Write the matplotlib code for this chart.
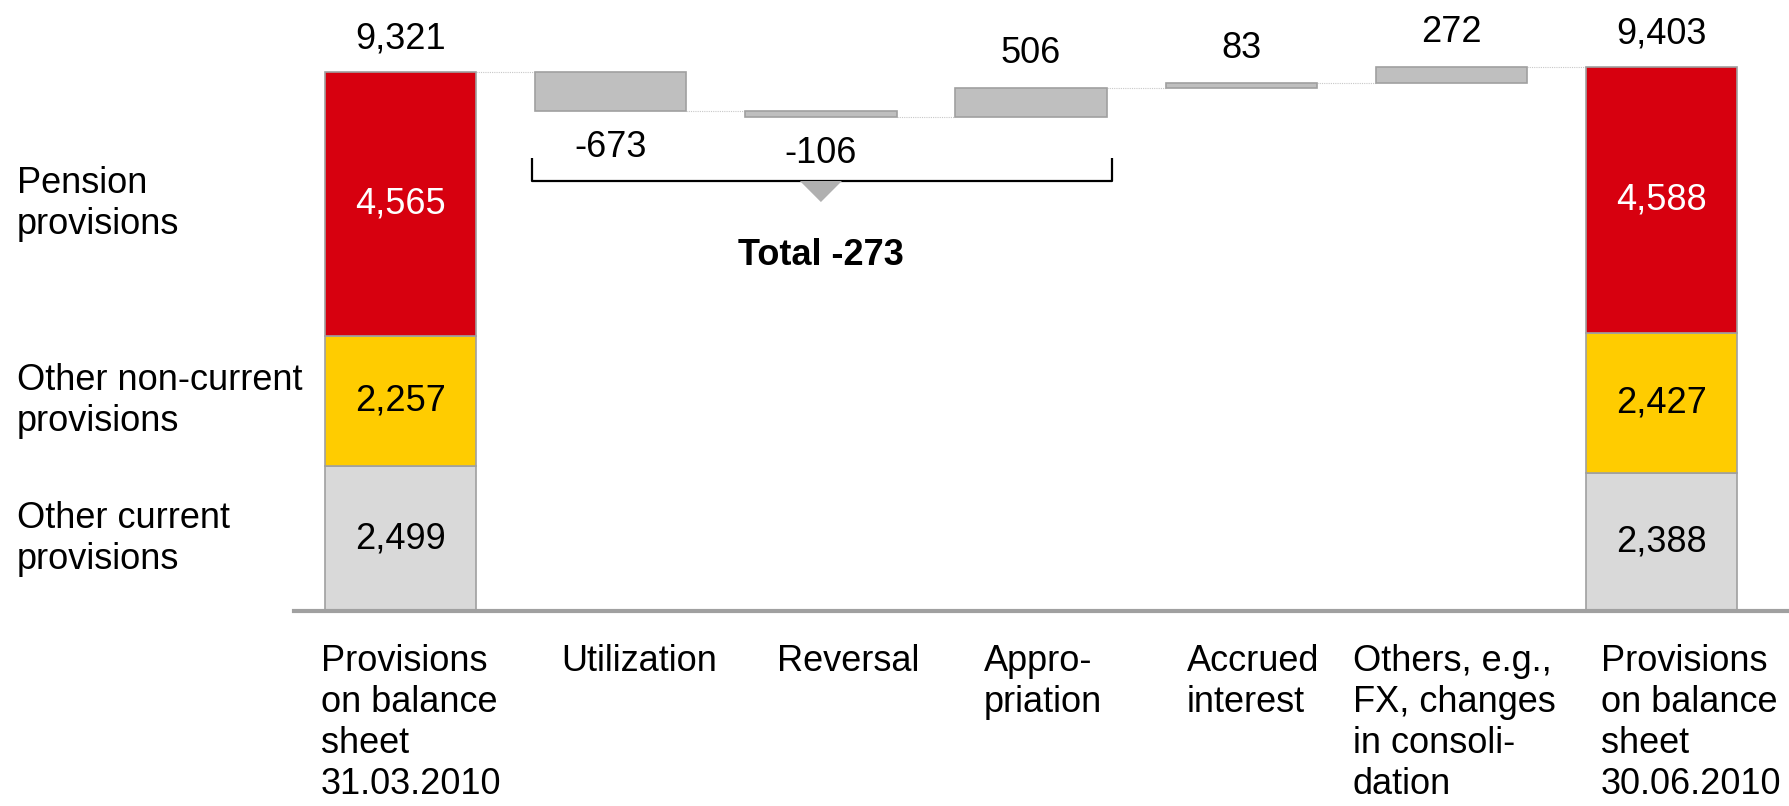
import numpy as np
import matplotlib
matplotlib.use("Agg")
import matplotlib.pyplot as plt
from matplotlib.patches import Polygon

plt.rcParams["font.family"] = ["Liberation Sans", "DejaVu Sans"]

# data
categories = ["Provisions\non balance\nsheet\n31.03.2010", "Utilization", "Reversal",
              "Appro-\npriation", "Accrued\ninterest",
              "Others, e.g.,\nFX, changes\nin consoli-\ndation",
              "Provisions\non balance\nsheet\n30.06.2010"]
segment_names = ["Other current\nprovisions", "Other non-current\nprovisions", "Pension\nprovisions"]
start_segments = [2499, 2257, 4565]
end_segments = [2388, 2427, 4588]
deltas = [-673, -106, 506, 83, 272]
bracket_total = -273

seg_colors = ["#D9D9D9", "#FFCC00", "#D7000F"]
seg_text_colors = ["black", "black", "white"]
delta_color = "#BFBFBF"
edge_color = "#A0A0A0"
fs = 26
width = 0.72
lsp = 1.22

fig = plt.figure(figsize=(17.89, 8.06), dpi=100)
ax = fig.add_axes([294 / 1789, 195 / 806, 1 - 294 / 1789, 611 / 806])

x = np.arange(len(categories))

def fmt(v):
    return "{:,}".format(v)

# stacked totals
for xi, segs in [(x[0], start_segments), (x[-1], end_segments)]:
    bottom = 0
    for val, col, tcol in zip(segs, seg_colors, seg_text_colors):
        ax.bar(xi, val, width, bottom=bottom, color=col, edgecolor=edge_color, linewidth=1.2, zorder=3)
        ax.text(xi, bottom + val / 2, fmt(val), ha="center", va="center", fontsize=fs, color=tcol, zorder=4)
        bottom += val
    ax.annotate(fmt(bottom), xy=(xi, bottom), xytext=(0, 24), textcoords="offset points",
                ha="center", va="center", fontsize=fs)

# deltas
start_total = sum(start_segments)
levels = start_total + np.concatenate([[0], np.cumsum(deltas)])
for i, d in enumerate(deltas):
    xi = x[i + 1]
    lo = min(levels[i], levels[i + 1])
    ax.bar(xi, abs(d), width, bottom=lo, color=delta_color, edgecolor=edge_color, linewidth=1.2, zorder=3)
    if d < 0:
        ax.annotate(fmt(d), xy=(xi, lo), xytext=(0, -26), textcoords="offset points",
                    ha="center", va="center", fontsize=fs)
    else:
        ax.annotate(fmt(d), xy=(xi, lo + d), xytext=(0, 25), textcoords="offset points",
                    ha="center", va="center", fontsize=fs)

# connector lines
for i in range(len(levels)):
    ax.plot([x[i] + width / 2, x[i + 1] - width / 2], [levels[i], levels[i]],
            color="#C8C8C8", lw=0.8, ls=(0, (1, 1)), zorder=2)

# bracket over utilization..appropriation
bl, br = x[1] - width / 2 - 0.015, x[3] + width / 2 + 0.025
by, bt = 7436, 7833
ax.plot([bl, bl, br, br], [bt, by, by, bt], color="black", lw=1.6, zorder=3, solid_capstyle="butt")
tri = Polygon([[x[2] - 0.1, by], [x[2] + 0.1, by], [x[2], 7072]], closed=True,
              facecolor="#B0B0B0", edgecolor="none", zorder=4)
ax.add_patch(tri)
ax.text(x[2], 6150, "Total " + fmt(bracket_total), ha="center", va="center",
        fontsize=fs, fontweight="bold")

# segment names on the left
bottom = 0
for name, val in zip(segment_names, start_segments):
    ax.annotate(name, xy=(17 / 1789, bottom + val / 2), xycoords=("figure fraction", "data"),
                ha="left", va="center", fontsize=fs, linespacing=lsp, annotation_clip=False)
    bottom += val

# category labels
label_offsets = [-0.38, -0.235, -0.209, -0.226, -0.26, -0.469, -0.29]
for xi, lab, off in zip(x, categories, label_offsets):
    ax.annotate(lab, xy=(xi + off, 0), xycoords=("data", "axes fraction"),
                xytext=(0, -24), textcoords="offset points", ha="left", va="top",
                fontsize=fs, linespacing=lsp, annotation_clip=False)

ax.set_xlim(-0.507, 6.606)
ax.set_ylim(0, 10566)
for s in ["top", "right", "left"]:
    ax.spines[s].set_visible(False)
ax.spines["bottom"].set_color("#A0A0A0")
ax.spines["bottom"].set_linewidth(3)
ax.spines["bottom"].set_zorder(5)
ax.set_xticks([])
ax.set_yticks([])
ax.patch.set_alpha(0)

fig.savefig("out.png", dpi=100)
